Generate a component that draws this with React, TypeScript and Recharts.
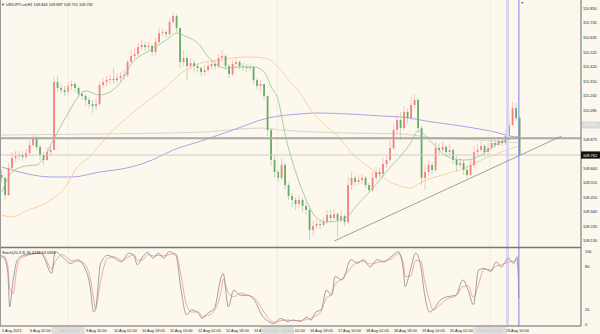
import React from "react";
import {
  Bar,
  ComposedChart,
  Line,
  LineChart,
  ReferenceLine,
  XAxis,
  YAxis,
} from "recharts";

const BG = "#fcf8ee";
const FONT = "'Liberation Sans', Arial, sans-serif";
const PLOT_W = 581;
const PRICE_DOMAIN = [109.072, 110.912];

// H1 candles grouped by two hours: open of the first, then closes / highs / lows
const firstOpen = 109.614;
const closes = [
  109.592, 109.465, 109.666, 109.74, 109.754, 109.762, 109.747, 109.777, 109.836, 109.888,
  109.821, 109.762, 109.725, 109.784, 109.799, 110.303, 110.259, 110.244, 110.229, 110.274,
  110.289, 110.259, 110.214, 110.2, 110.17, 110.14, 110.125, 110.14, 110.281, 110.303,
  110.318, 110.326, 110.318, 110.333, 110.348, 110.355, 110.452, 110.496, 110.511, 110.563,
  110.578, 110.563, 110.571, 110.526, 110.6, 110.667, 110.674, 110.659, 110.749, 110.793,
  110.704, 110.452, 110.482, 110.422, 110.444, 110.422, 110.407, 110.378, 110.393, 110.422,
  110.437, 110.422, 110.482, 110.496, 110.422, 110.363, 110.437, 110.452, 110.422, 110.415,
  110.407, 110.415, 110.318, 110.274, 110.289, 110.2, 109.947, 109.725, 109.636, 109.592,
  109.688, 109.539, 109.457, 109.428, 109.398, 109.428, 109.384, 109.354, 109.205, 109.235,
  109.25, 109.243, 109.265, 109.317, 109.295, 109.324, 109.28, 109.309, 109.265, 109.539,
  109.592, 109.561, 109.576, 109.592, 109.539, 109.502, 109.592, 109.636, 109.621, 109.695,
  109.725, 109.814, 109.947, 110.022, 109.962, 110.081, 110.036, 110.133, 110.17, 109.962,
  109.592, 109.636, 109.688, 109.651, 109.814, 109.799, 109.821, 109.784, 109.799, 109.725,
  109.688, 109.703, 109.651, 109.614, 109.688, 109.784, 109.799, 109.829, 109.784, 109.814,
  109.851, 109.836, 109.866, 109.851, 109.903, 109.985, 110.11, 110.036, 109.762,
];
const highs = [
  109.651, 109.606, 109.703, 109.784, 109.792, 109.799, 109.792, 109.806, 109.873, 109.91,
  109.903, 109.836, 109.784, 109.814, 109.829, 110.34, 110.348, 110.289, 110.274, 110.303,
  110.318, 110.303, 110.274, 110.237, 110.214, 110.192, 110.17, 110.185, 110.303, 110.333,
  110.348, 110.363, 110.407, 110.37, 110.378, 110.393, 110.467, 110.541, 110.556, 110.593,
  110.615, 110.6, 110.6, 110.585, 110.63, 110.704, 110.704, 110.689, 110.778, 110.815,
  110.808, 110.712, 110.541, 110.504, 110.482, 110.467, 110.444, 110.422, 110.43, 110.452,
  110.467, 110.467, 110.511, 110.541, 110.511, 110.437, 110.467, 110.482, 110.467, 110.444,
  110.437, 110.444, 110.422, 110.333, 110.318, 110.289, 110.2, 109.962, 109.754, 109.651,
  109.74, 109.703, 109.554, 109.48, 109.45, 109.465, 109.443, 109.413, 109.369, 109.28,
  109.28, 109.272, 109.295, 109.354, 109.354, 109.361, 109.339, 109.354, 109.324, 109.599,
  109.636, 109.606, 109.614, 109.621, 109.606, 109.554, 109.636, 109.673, 109.666, 109.74,
  109.762, 109.873, 109.985, 110.066, 110.081, 110.125, 110.11, 110.192, 110.214, 110.185,
  109.977, 109.688, 109.725, 109.71, 109.858, 109.851, 109.866, 109.836, 109.843, 109.814,
  109.754, 109.74, 109.725, 109.688, 109.725, 109.829, 109.843, 109.866, 109.843, 109.858,
  109.881, 109.888, 109.895, 109.888, 109.947, 110.036, 110.155, 110.148, 110.051,
];
const lows = [
  109.561, 109.428, 109.457, 109.651, 109.71, 109.725, 109.718, 109.732, 109.754, 109.829,
  109.799, 109.725, 109.688, 109.718, 109.762, 109.799, 110.229, 110.214, 110.2, 110.214,
  110.244, 110.229, 110.192, 110.17, 110.125, 110.11, 110.074, 110.096, 110.125, 110.259,
  110.274, 110.289, 110.289, 110.296, 110.303, 110.318, 110.34, 110.444, 110.467, 110.496,
  110.541, 110.534, 110.541, 110.496, 110.504, 110.585, 110.637, 110.63, 110.645, 110.734,
  110.674, 110.407, 110.422, 110.318, 110.393, 110.378, 110.37, 110.348, 110.355, 110.378,
  110.4, 110.393, 110.407, 110.452, 110.393, 110.333, 110.348, 110.407, 110.393, 110.385,
  110.378, 110.385, 110.289, 110.244, 110.229, 110.17, 109.903, 109.681, 109.592, 109.561,
  109.576, 109.502, 109.428, 109.376, 109.354, 109.369, 109.339, 109.324, 109.131, 109.161,
  109.213, 109.213, 109.228, 109.25, 109.265, 109.28, 109.154, 109.257, 109.235, 109.25,
  109.502, 109.532, 109.539, 109.547, 109.517, 109.48, 109.487, 109.576, 109.592, 109.606,
  109.666, 109.71, 109.799, 109.918, 109.873, 109.947, 109.992, 110.022, 110.11, 109.932,
  109.539, 109.502, 109.606, 109.614, 109.636, 109.769, 109.784, 109.754, 109.762, 109.695,
  109.636, 109.666, 109.614, 109.592, 109.606, 109.666, 109.754, 109.784, 109.747, 109.762,
  109.799, 109.814, 109.829, 109.829, 109.836, 109.873, 109.977, 110.014, 109.755,
];

// moving averages, read as [slot, price]
const maFast: [number, number][] = [
  [0, 109.487], [3, 109.636], [7, 109.681], [10, 109.688], [12, 109.74], [15, 109.888],
  [19, 110.074], [22, 110.2], [24, 110.237], [28, 110.207], [34, 110.303], [37, 110.437],
  [42, 110.534], [47, 110.615], [50, 110.667], [53, 110.637], [56, 110.593], [59, 110.489],
  [62, 110.422], [64, 110.407], [68, 110.415], [72, 110.415], [75, 110.378], [77, 110.266],
  [79, 110.17], [81, 109.91], [84, 109.636], [87, 109.428], [90, 109.295], [93, 109.265],
  [97, 109.28], [99, 109.309], [101, 109.376], [105, 109.487], [108, 109.576], [111, 109.673],
  [114, 109.754], [117, 109.858], [119, 109.94], [123, 109.851], [127, 109.754], [132, 109.725],
  [136, 109.747], [139, 109.799], [142, 109.851], [146, 109.888], [148, 109.903],
];
const maMid: [number, number][] = [
  [0, 109.317], [3, 109.302], [7, 109.347], [14, 109.428], [19, 109.554], [21, 109.651],
  [25, 109.747], [31, 109.925], [37, 110.066], [42, 110.17], [47, 110.266], [52, 110.385],
  [57, 110.444], [62, 110.467], [66, 110.482], [71, 110.489], [75, 110.482], [79, 110.415],
  [82, 110.318], [85, 110.229], [89, 110.074], [93, 109.97], [97, 109.873], [100, 109.777],
  [104, 109.688], [108, 109.613], [111, 109.561], [114, 109.532], [117, 109.517], [119, 109.547],
  [123, 109.592], [128, 109.629], [133, 109.673], [137, 109.725], [142, 109.777], [146, 109.814],
  [148, 109.829],
];
const maSlow: [number, number][] = [
  [0, 109.673], [5, 109.636], [14, 109.599], [20, 109.599], [28, 109.636], [37, 109.673],
  [43, 109.725], [49, 109.799], [57, 109.866], [66, 109.947], [76, 110.036], [85, 110.066],
  [90, 110.074], [99, 110.066], [109, 110.051], [114, 110.044], [123, 110.007], [133, 109.97],
  [142, 109.925], [145, 109.903], [148, 109.895],
];
const maLong: [number, number][] = [
  [0, 109.91], [28, 109.918], [57, 109.932], [74, 109.962], [80, 109.947], [90, 109.932],
  [99, 109.925], [114, 109.918], [124, 109.888], [137, 109.873], [148, 109.851],
];

const priceTicks = [
  110.85, 110.745, 110.635, 110.525, 110.42, 110.31, 110.2, 110.095, 109.985, 109.875,
  109.762, 109.66, 109.555, 109.45, 109.34, 109.235, 109.13,
];
const bidPrice = 109.762;
const greyLabelPrice = 109.985;
const levelPrice = 109.887;
const trendLine = [
  { slot: 95, price: 109.124 },
  { slot: 160, price: 109.903 },
];

// stochastic (20,3,3) read on hourly bar index
const stochHours = [
  0, 2, 4, 5, 7, 9, 11, 17, 23, 25, 29, 31, 35, 40, 44, 47, 51, 53, 54, 57, 61, 65, 69, 73,
  76, 78, 81, 84, 87, 90, 93, 96, 100, 103, 106, 109, 113, 115, 118, 122, 126, 127, 130, 133,
  137, 141, 145, 149, 153, 156, 160, 164, 167, 171, 175, 177, 180, 183, 186, 189, 191, 195,
  200, 204, 207, 211, 215, 219, 223, 227, 230, 231, 234, 237, 240, 242, 245, 247, 251, 255,
  260, 264, 267, 270, 273, 276, 280, 283, 286, 290, 293, 295, 296,
];
const stochMain = [
  95, 91, 70, 24, 61, 86, 93, 97, 98, 90, 70, 100, 93, 84, 89, 82, 52, 17, 20, 84, 95, 91, 86,
  98, 95, 82, 93, 99, 91, 98, 91, 100, 95, 47, 13, 20, 15, 8, 15, 22, 66, 70, 24, 47, 40, 40,
  33, 13, 4, 1, 8, 4, 6, 4, 10, 6, 17, 20, 47, 40, 66, 61, 89, 84, 89, 79, 89, 86, 93, 100, 75,
  52, 75, 98, 79, 43, 17, 20, 33, 38, 40, 61, 47, 27, 75, 77, 73, 86, 79, 91, 84, 93, 36.3249,
];
const stochSignal = [
  93, 93, 80, 50, 42, 75, 90, 96, 98, 94, 76, 86, 96, 88, 87, 85, 64, 35, 22, 60, 91, 93, 88,
  93, 96, 88, 89, 96, 94, 95, 94, 96, 97, 66, 27, 17, 17, 11, 12, 19, 48, 62, 43, 38, 43, 40,
  36, 22, 8, 3, 5, 6, 5, 5, 7, 8, 12, 18, 36, 42, 55, 63, 78, 86, 87, 83, 85, 87, 90, 97, 85,
  66, 66, 88, 87, 62, 32, 20, 27, 35, 39, 52, 53, 37, 55, 76, 75, 80, 82, 86, 87, 89, 63.0696,
];
const stochTicks = [0, 20, 80, 100];

const timeTicks = [0, 16, 32, 48, 64, 80, 96, 112, 128, 144, 160, 176, 192, 208, 224, 240, 256, 272, 288];
const timeLabels = [
  "5 Aug 2021", "6 Aug 02:00", "6 Aug 18:00", "9 Aug 10:00", "10 Aug 02:00", "10 Aug 18:00",
  "11 Aug 10:00", "12 Aug 02:00", "12 Aug 18:00", "13 Aug 10:00", "16 Aug 02:00",
  "16 Aug 18:00", "17 Aug 10:00", "18 Aug 02:00", "18 Aug 18:00", "19 Aug 10:00",
  "20 Aug 02:00", "20 Aug 18:00", "23 Aug 10:00",
];
const weekStarts = [38.5, 158, 279.5];
const highlightHour = 289.5;
const cursorHour = 296;

const SLOTS = 166;
const SLOT_DOMAIN = [-0.5, SLOTS - 0.5];
const candleRows = closes.map((c, i) => ({
  slot: i,
  open: i === 0 ? firstOpen : closes[i - 1],
  close: c,
  range: [lows[i], highs[i]],
}));
const toRows = (pts: [number, number][]) => pts.map(([slot, v]) => ({ slot, v }));
const stochRows = stochHours.map((t, i) => ({ t, k: stochMain[i], d: stochSignal[i] }));

function Candle(props: any) {
  const { x, y, width, height, payload } = props;
  if (!payload || !payload.range) return <g />;
  const [lo, hi] = payload.range;
  const top = height >= 0 ? y : y + height;
  const h = Math.abs(height);
  const span = hi - lo || 1;
  const toY = (v: number) => top + ((hi - Math.min(hi, Math.max(lo, v))) / span) * h;
  const cx = x + width / 2;
  const up = payload.close >= payload.open;
  const yo = toY(payload.open);
  const yc = toY(payload.close);
  return (
    <g>
      <line x1={cx} x2={cx} y1={top} y2={top + h} stroke={up ? "#f7b9b9" : "#afd6ac"} strokeWidth={0.8} />
      <rect
        x={cx - 0.9}
        y={Math.min(yo, yc)}
        width={1.8}
        height={Math.max(0.8, Math.abs(yo - yc))}
        fill={up ? "#f48080" : "#67ad69"}
      />
    </g>
  );
}

function PriceTick(props: any) {
  const { y, payload } = props;
  const v = payload.value;
  const txt = v.toFixed(3);
  if (v === bidPrice) {
    return (
      <g>
        <rect x={PLOT_W} y={y - 3.6} width={19} height={7.2} fill="#111" />
        <text x={PLOT_W + 2} y={y} fontSize={3.9} fontFamily={FONT} fill="#fff" dominantBaseline="central">{txt}</text>
      </g>
    );
  }
  if (v === greyLabelPrice) {
    return (
      <g>
        <rect x={PLOT_W + 1} y={y - 3.6} width={18} height={7.2} fill="#d9d9d9" />
        <text x={PLOT_W + 2} y={y} fontSize={3.9} fontFamily={FONT} fill="#f7f7f7" dominantBaseline="central">{txt}</text>
      </g>
    );
  }
  return (
    <text x={PLOT_W + 2} y={y} fontSize={3.9} fontFamily={FONT} fill="#222" dominantBaseline="central">{txt}</text>
  );
}

function StochTick(props: any) {
  const { y, payload } = props;
  return (
    <text x={PLOT_W + 4} y={y} fontSize={3.9} fontFamily={FONT} fill="#222" dominantBaseline="central">
      {payload.value}
    </text>
  );
}

function TimeTick(props: any) {
  const { x, payload } = props;
  const v = payload.value;
  if (weekStarts.includes(v)) {
    return <rect x={x - 16.5} y={79} width={33} height={7} fill="#d9d9d9" fillOpacity={0.88} />;
  }
  const idx = timeTicks.indexOf(v);
  return (
    <text x={x + 1} y={82.4} fontSize={3.9} fontFamily={FONT} fill="#222" dominantBaseline="central">
      {timeLabels[idx]}
    </text>
  );
}

function MaLayer({ series }: { series: { pts: [number, number][]; color: string }[] }) {
  return (
    <LineChart width={600} height={248} margin={{ top: 0, right: 19, bottom: 0, left: 0 }}>
      <XAxis dataKey="slot" type="number" domain={SLOT_DOMAIN} allowDataOverflow hide />
      <YAxis type="number" domain={PRICE_DOMAIN} allowDataOverflow hide />
      {series.map((s, i) => (
        <Line
          key={i}
          data={toRows(s.pts)}
          dataKey="v"
          type="monotone"
          stroke={s.color}
          strokeWidth={0.8}
          dot={false}
          activeDot={false}
          isAnimationActive={false}
        />
      ))}
    </LineChart>
  );
}

const layer: React.CSSProperties = { position: "absolute", left: 0, top: 0 };

export default function App() {
  return (
    <div style={{ position: "absolute", left: 0, top: 0, width: 600, height: 334, background: BG, overflow: "hidden" }}>
      <div style={layer}>
        <MaLayer
          series={[
            { pts: maLong, color: "#d3ccbe" },
            { pts: maSlow, color: "#9090e6" },
            { pts: maMid, color: "#fbc58c" },
          ]}
        />
      </div>
      <div style={layer}>
        <ComposedChart width={600} height={248} data={candleRows} margin={{ top: 0, right: 0, bottom: 0, left: 0 }}>
          <XAxis dataKey="slot" type="number" domain={SLOT_DOMAIN} allowDataOverflow hide />
          <YAxis
            orientation="right"
            type="number"
            width={19}
            domain={PRICE_DOMAIN}
            allowDataOverflow
            ticks={priceTicks}
            interval={0}
            tick={(p: any) => <PriceTick {...p} />}
            tickLine={false}
            axisLine={{ stroke: "#666" }}
          />
          {weekStarts.map((h) => (
            <ReferenceLine key={h} x={h / 2 - 0.25} stroke="#e6dfd2" strokeDasharray="1 1" />
          ))}
          <ReferenceLine x={highlightHour / 2 - 0.25} stroke="#d8d6f1" strokeWidth={3} />
          <ReferenceLine y={bidPrice} stroke="#d2ccc0" strokeWidth={1} />
          <Bar dataKey="range" barSize={3.5} shape={(p: any) => <Candle {...p} />} isAnimationActive={false} />
          <ReferenceLine y={levelPrice} stroke="#a8a8a8" strokeWidth={2} />
          <ReferenceLine
            segment={[
              { x: trendLine[0].slot, y: trendLine[0].price },
              { x: trendLine[1].slot, y: trendLine[1].price },
            ]}
            stroke="#8c8c8c"
            strokeWidth={0.8}
          />
          <ReferenceLine x={cursorHour / 2 - 0.25} stroke="#7f7fe6" strokeWidth={1} />
        </ComposedChart>
      </div>
      <div style={layer}>
        <MaLayer series={[{ pts: maFast, color: "#92c492" }]} />
      </div>
      <div style={{ position: "absolute", left: 0, top: 248 }}>
        <LineChart width={600} height={86} data={stochRows} margin={{ top: 0, right: 0, bottom: 0, left: 0 }}>
          <XAxis
            dataKey="t"
            type="number"
            domain={[-0.5, 331.5]}
            allowDataOverflow
            ticks={[...timeTicks, ...weekStarts]}
            interval={0}
            height={8}
            tick={(p: any) => <TimeTick {...p} />}
            tickLine={false}
            axisLine={{ stroke: "#666" }}
          />
          <YAxis
            orientation="right"
            type="number"
            width={19}
            domain={[-2.3, 105.1]}
            allowDataOverflow
            ticks={stochTicks}
            interval={0}
            tick={(p: any) => <StochTick {...p} />}
            tickLine={false}
            axisLine={{ stroke: "#666" }}
          />
          {weekStarts.map((h) => (
            <ReferenceLine key={h} x={h} stroke="#e6dfd2" strokeDasharray="1 1" />
          ))}
          <ReferenceLine x={highlightHour} stroke="#d8d6f1" strokeWidth={3} />
          <Line dataKey="d" type="monotone" stroke="#f29494" strokeWidth={0.8} dot={false} activeDot={false} isAnimationActive={false} />
          <Line dataKey="k" type="monotone" stroke="#8a8a8a" strokeWidth={0.8} dot={false} activeDot={false} isAnimationActive={false} />
          <ReferenceLine x={cursorHour} stroke="#7f7fe6" strokeWidth={1} />
        </LineChart>
      </div>
      <svg width={600} height={334} style={{ position: "absolute", left: 0, top: 0, pointerEvents: "none" }}>
        <line x1={0} x2={PLOT_W} y1={247.5} y2={247.5} stroke="#777" strokeWidth={1.5} />
        <line x1={0.5} x2={0.5} y1={0} y2={326} stroke="#9a9a9a" strokeWidth={1} />
        <text x={1} y={4} fontSize={3.9} fontFamily={FONT} fill="#333" dominantBaseline="central">▼</text>
        <text x={6} y={4} fontSize={3.9} fontFamily={FONT} fill="#222" dominantBaseline="central">
          USDJPY-cd,H1  109.846 109.887 109.755 109.762
        </text>
        <text x={520.5} y={2.5} fontSize={3.6} fontFamily={FONT} fill="#555" dominantBaseline="central">▼</text>
        <text x={2} y={252} fontSize={3.9} fontFamily={FONT} fill="#222" dominantBaseline="central">
          Stoch(20,3,3) 36.3249 63.0696
        </text>
      </svg>
    </div>
  );
}
